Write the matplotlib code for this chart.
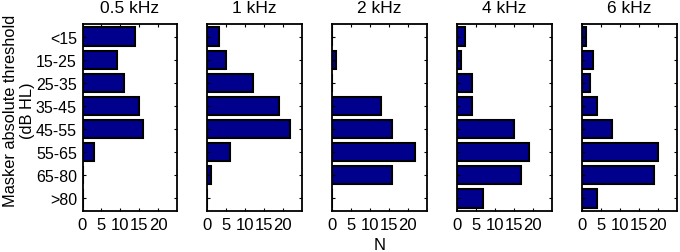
import matplotlib
matplotlib.use("Agg")
import matplotlib.pyplot as plt
import numpy as np

plt.rcParams['font.family'] = ['Liberation Sans', 'DejaVu Sans']

categories = ["<15", "15-25", "25-35", "35-45", "45-55", "55-65", "65-80", ">80"]
freqs = ["0.5 kHz", "1 kHz", "2 kHz", "4 kHz", "6 kHz"]
n_05k = [14, 9, 11, 15, 16, 3, 0, 0]
n_1k = [3, 5, 12, 19, 22, 6, 1, 0]
n_2k = [0, 1, 0, 13, 16, 22, 16, 0]
n_4k = [2, 1, 4, 4, 15, 19, 17, 7]
n_6k = [1, 3, 2, 4, 8, 20, 19, 4]
series = [n_05k, n_1k, n_2k, n_4k, n_6k]
xticks = [0, 5, 10, 15, 20]

W, H = 680, 253
fig = plt.figure(figsize=(W / 100, H / 100), dpi=100)

lefts = [82.5, 207.3, 332.0, 457.0, 582.0]
aw = 94.5
top_px, bot_px = 25, 212
ypos = np.arange(1, len(categories) + 1)

for i, (vals, title) in enumerate(zip(series, freqs)):
    ax = fig.add_axes([lefts[i] / W, (H - bot_px) / H, aw / W, (bot_px - top_px) / H])
    ax.barh(ypos, vals, height=0.8, color='#00008c', edgecolor='black', linewidth=1.5)
    ax.set_xlim(0, 25)
    ax.set_ylim(8.55, 0.45)
    ax.set_xticks(xticks)
    ax.set_xticklabels([str(t) for t in xticks], fontsize=12)
    ax.set_yticks(ypos)
    if i == 0:
        ax.set_yticklabels(categories, fontsize=11.5)
    else:
        ax.set_yticklabels([])
    ax.tick_params(direction='in', length=2.5, width=0.8, top=True, right=True,
                   pad=4, color='black')
    for s in ax.spines.values():
        s.set_linewidth(1.3)
    ax.set_title(title, fontsize=12.5, pad=8.5)

fig.text(19 / W, 1 - 111 / H, "Masker absolute threshold\n(dB HL)", rotation=90,
         ha='center', va='center', multialignment='center', fontsize=11.8, linespacing=1.1)
fig.text(380 / W, 1 - 246 / H, "N", ha='center', va='center', fontsize=12)

fig.savefig("out.png", dpi=100)
